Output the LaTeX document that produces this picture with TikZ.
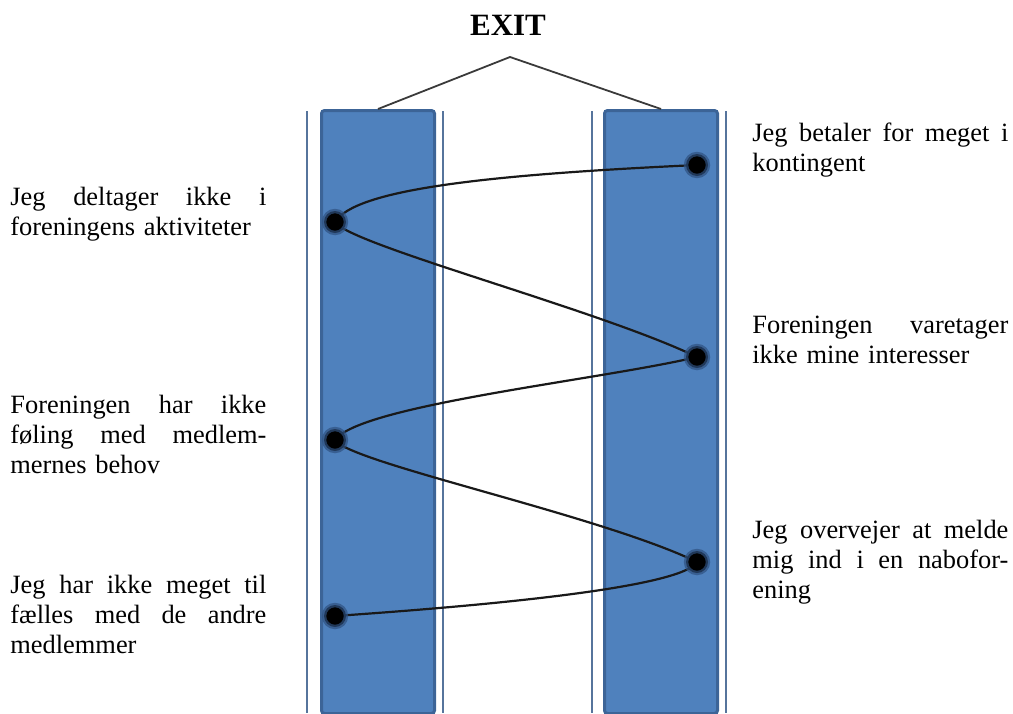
\documentclass[tikz,border=0pt]{standalone}
\usepackage{fontspec}
\setmainfont{Liberation Serif}
\definecolor{colfill}{HTML}{4F81BD}
\definecolor{colborder}{HTML}{3C6497}
\definecolor{colrail}{HTML}{56749C}
\definecolor{colhalo}{HTML}{2F5180}
\definecolor{colroof}{HTML}{3A3A3A}
\pgfdeclarelayer{back}
\pgfdeclarelayer{mid}
\pgfsetlayers{back,mid,main}
\newcommand{\jline}[1]{\leavevmode\hbox to 128pt{\spaceskip=0.25em plus 1fil\relax #1}}
\begin{document}
\begin{tikzpicture}[x=0.5pt,y=-0.5pt,
  column/.style={draw=colborder, line width=1.5pt, fill=colfill, rounded corners=1.5pt,
    minimum width=56.5pt, minimum height=301.5pt, inner sep=0pt, anchor=north west},
  rail/.style={draw=colrail, line width=1.2pt},
  roof/.style={draw=colroof, line width=0.9pt},
  spiral/.style={draw=black!90, line width=1.1pt},
  dotnode/.style={circle, fill=black, draw=colhalo, draw opacity=0.7, line width=2.2pt,
    minimum size=11pt, inner sep=0pt},
  label/.style={anchor=north west, inner sep=0pt, align=left,
    font=\fontsize{13.2}{15}\selectfont},
  exitlabel/.style={anchor=base, inner sep=0pt, font=\bfseries\fontsize{15.5}{18}\selectfont}]
\useasboundingbox (0,0) rectangle (1013,713);

\begin{pgfonlayer}{back}
  \node[column] (lcol) at (320,109) {};
  \node[column] (rcol) at (603,109) {};
  \draw[rail] (307,111) -- (307,713);
  \draw[rail] (443,111) -- (443,713);
  \draw[rail] (592,111) -- (592,713);
  \draw[rail] (726,111) -- (726,713);
  \coordinate (apex) at (510,57);
  \draw[roof] (lcol.north) -- (apex) -- (rcol.north);
\end{pgfonlayer}

\node[exitlabel] (exit) at (508,35) {EXIT};

\node[dotnode] (r1) at (697,165) {};
\node[dotnode] (l1) at (335,222) {};
\node[dotnode] (r2) at (697,357) {};
\node[dotnode] (l2) at (335,440) {};
\node[dotnode] (r3) at (697,562) {};
\node[dotnode] (l3) at (335,616) {};

\begin{pgfonlayer}{mid}
  \draw[spiral] (r1.center) .. controls (480,175) and (355,190) .. (l1.center)
    .. controls (350,245) and (600,310) .. (r2.center)
    .. controls (600,380) and (360,405) .. (l2.center)
    .. controls (350,463) and (600,515) .. (r3.center)
    .. controls (680,590) and (450,608) .. (l3.center);
\end{pgfonlayer}

\node[label, text width=128pt] (t1) at (10,184)
  {\strut\jline{Jeg deltager ikke i}\\foreningens aktiviteter};
\node[label, text width=128pt] (t2) at (10,392)
  {\strut\jline{Foreningen har ikke}\\\jline{føling med medlem-}\\mernes behov};
\node[label, text width=128pt] (t3) at (10,572)
  {\strut\jline{Jeg har ikke meget til}\\\jline{fælles med de andre}\\medlemmer};
\node[label, text width=128pt] (t4) at (752,120)
  {\strut\jline{Jeg betaler for meget i}\\kontingent};
\node[label, text width=128pt] (t5) at (752,312)
  {\strut\jline{Foreningen varetager}\\ikke mine interesser};
\node[label, text width=128pt] (t6) at (752,517)
  {\strut\jline{Jeg overvejer at melde}\\\jline{mig ind i en nabofor-}\\ening};
\end{tikzpicture}
\end{document}
